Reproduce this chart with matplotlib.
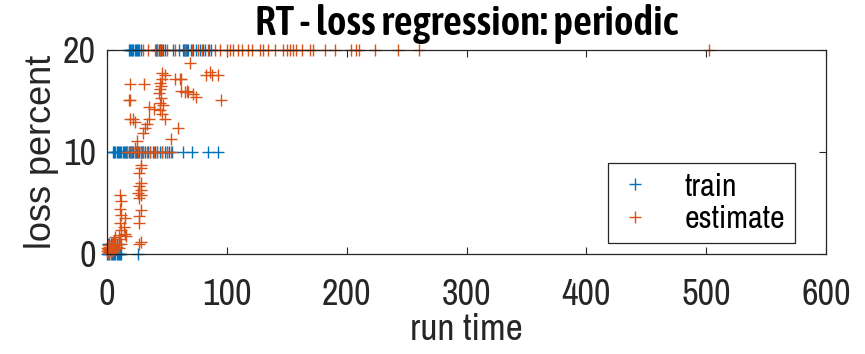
import matplotlib
matplotlib.use("Agg")
import matplotlib.pyplot as plt
from matplotlib import font_manager

plt.rcParams['font.family'] = ['Liberation Sans', 'DejaVu Sans']

_names = {f.name for f in font_manager.fontManager.ttflist}


def pick(cands):
    for c in cands:
        if c in _names:
            return [c, 'Liberation Sans']
    return ['Liberation Sans', 'DejaVu Sans']


narrow = pick(['Archivo Narrow', 'Roboto Condensed', 'Asap Condensed'])
narrow_bold = pick(['Asap Condensed', 'Roboto Condensed', 'Barlow Condensed'])

# Measured loss (train)
train_x = ([18, 19, 20, 21, 22, 23, 24, 25, 26, 27, 28, 41, 42, 43, 44, 45, 47, 48,
            55, 60, 63, 64, 65, 66, 67, 68, 70, 72, 74, 78, 80, 82, 85, 87]
           + [5, 6, 7, 8, 9, 10, 11, 12, 13, 14, 15, 16, 17, 18, 19, 20, 21, 22, 23,
              24, 25, 26, 27, 28, 29, 30, 32, 34, 36, 38, 40, 42, 44, 46, 48, 50, 52,
              54, 63, 71, 84, 93]
           + [1, 2, 3, 4, 5, 6, 8, 10]
           + [0, 1, 2, 3, 4, 5, 6, 7, 8, 9, 10, 11, 12, 26])
train_y = ([20] * 34 + [10] * 42 + [1] * 8 + [0] * 14)

# Regression estimate
est_x = ([30, 34, 40, 42, 44, 46, 50, 57, 65, 71, 76, 79, 84, 90, 94, 100, 103, 105,
          109, 113, 118, 121, 128, 130, 134, 140, 147, 150, 153, 155, 158, 163, 169,
          172, 182, 190, 204, 208, 210, 224, 243, 260, 502]
         + [17, 20, 23, 26, 28, 30, 33, 36, 39, 42, 46, 50, 53]
         + [69, 19, 31, 19, 46, 48, 46, 62, 83, 88, 93, 86, 62, 67, 72, 74, 95, 35, 39,
            44, 46, 22, 23, 19, 35, 33, 32, 48, 59, 30, 25, 53, 23, 43, 45, 47, 44, 44,
            45, 44, 57, 61, 18, 65, 68]
         + [28, 28, 27, 28, 27, 28, 26, 28, 27, 28, 27, 27, 28, 27]
         + [11, 12, 11, 12, 11, 12, 10, 11, 12, 10, 15, 14, 15, 16, 7, 6, 7, 8]
         + [0, 1, 2, 3, 4, 5, 1, 2, 3, 4, 5, 6, 0, 2, 1, 3])
est_y = ([20] * 43 + [10] * 13
         + [18.7, 16.7, 16.7, 15.1, 17.7, 17.5, 17.2, 17.2, 17.5, 17.5, 17.5, 17.8,
            16.0, 16.0, 15.7, 15.4, 15.1, 14.4, 14.2, 14.1, 13.7, 13.2, 12.9, 13.2,
            13.2, 12.7, 12.4, 13.2, 12.4, 11.9, 11.1, 11.3, 10.4, 15.8, 16.5, 14.6,
            16.8, 16.2, 15.3, 14.8, 17.2, 17.2, 15.1, 15.9, 15.9]
         + [8.7, 8.4, 7.9, 7.0, 6.7, 6.3, 6.0, 5.8, 5.5, 4.3, 3.7, 3.0, 1.2, 1.0]
         + [5.8, 5.2, 4.4, 3.8, 3.0, 2.4, 1.9, 1.5, 1.0, 0.6, 3.5, 2.6, 2.0, 1.8,
            1.7, 1.3, 0.9, 0.7]
         + [0.3, 0.5, 0.2, 0.6, 0.4, 0.8, 0.1, 0.7, 0.1, 1.0, 0.3, 0.5, 0.6, 0.4,
            0.9, 0.2])

x_ticks = [0, 100, 200, 300, 400, 500, 600]
y_ticks = [0, 10, 20]

blue = '#0072BD'
orange = '#D95319'
ink = '#262626'

fig = plt.figure(figsize=(8.65, 3.54), dpi=100)
ax = fig.add_axes([0.1237, 0.2825, 0.8313, 0.5763])

ax.plot(train_x, train_y, linestyle='none', marker='+', color=blue,
        markersize=9, markeredgewidth=1.0, clip_on=False, label='train')
ax.plot(est_x, est_y, linestyle='none', marker='+', color=orange,
        markersize=9, markeredgewidth=1.0, clip_on=False, label='estimate')

ax.set_xlim(0, 600)
ax.set_ylim(0, 20)
ax.set_xticks(x_ticks)
ax.set_yticks(y_ticks)
ax.tick_params(direction='in', length=5, width=0.8, top=True, right=True,
               colors=ink)
ax.tick_params(axis='x', pad=17)
ax.tick_params(axis='y', pad=8)
for lab in ax.get_xticklabels() + ax.get_yticklabels():
    lab.set_family(narrow)
    lab.set_fontsize(26)
for s in ax.spines.values():
    s.set_color(ink)
    s.set_linewidth(0.9)

ax.set_xlabel('run time', fontsize=27, color=ink, labelpad=2, family=narrow)
ax.set_ylabel('loss percent', fontsize=26, color=ink, labelpad=3)
ax.set_title('RT - loss regression: periodic', fontsize=30, fontweight=600,
             color='black', pad=11, family=narrow_bold)

leg = ax.legend(loc='lower right', bbox_to_anchor=(0.957, 0.054),
                prop={'family': narrow, 'size': 23},
                frameon=True, fancybox=False, framealpha=1, edgecolor=ink,
                handlelength=1.1, handletextpad=1.0, borderpad=0.3,
                labelspacing=0.15, borderaxespad=0)
leg.get_frame().set_linewidth(0.9)

fig.savefig('out.png', dpi=100)
